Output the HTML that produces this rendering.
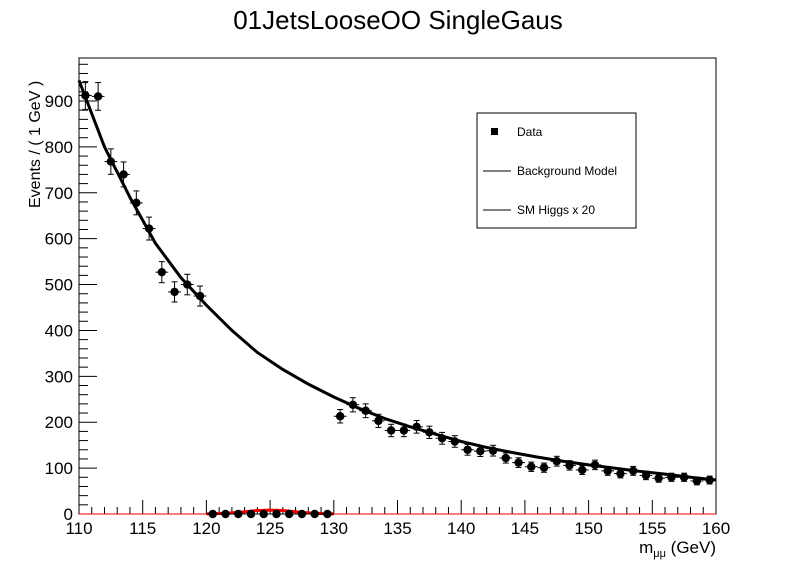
<!DOCTYPE html>
<html><head><meta charset="utf-8"><style>
body{margin:0;background:#fff;width:796px;height:572px;overflow:hidden}
svg text{font-family:"Liberation Sans",Arial,sans-serif}
</style></head><body>
<svg id="chart" width="796" height="572">
<text x="398" y="29" font-size="26" text-anchor="middle">01JetsLooseOO SingleGaus</text>
<rect x="79" y="58" width="637" height="456" fill="none" stroke="#000" stroke-width="1"/>
<g id="axes"></g>
<g id="marks"></g>
<text x="716" y="553" font-size="17" text-anchor="end">m<tspan font-size="11" dy="4">μμ</tspan><tspan dy="-4"> (GeV)</tspan></text>
<text transform="translate(40,208) rotate(-90)" font-size="16">Events / ( 1 GeV )</text>
<g>
<rect x="477" y="113" width="159" height="115" fill="#fff" stroke="#000" stroke-width="1"/>
<rect x="491" y="128" width="7" height="7" fill="#000"/>
<text x="517" y="136" font-size="12">Data</text>
<line x1="483" y1="171" x2="511" y2="171" stroke="#000"/>
<text x="517" y="175" font-size="12">Background Model</text>
<line x1="483" y1="210" x2="511" y2="210" stroke="#000"/>
<text x="517" y="214" font-size="12">SM Higgs x 20</text>
</g>
</svg>
<script>
const dataX=[110.5,111.5,112.5,113.5,114.5,115.5,116.5,117.5,118.5,119.5,120.5,121.5,122.5,123.5,124.5,125.5,126.5,127.5,128.5,129.5,130.5,131.5,132.5,133.5,134.5,135.5,136.5,137.5,138.5,139.5,140.5,141.5,142.5,143.5,144.5,145.5,146.5,147.5,148.5,149.5,150.5,151.5,152.5,153.5,154.5,155.5,156.5,157.5,158.5,159.5];
const dataY=[912,910,768,740,678,622,527,484,500,475,0,0,0,0,0,0,0,0,0,0,213,238,225,203,182,182,190,178,165,158,140,137,138,122,112,103,101,115,106,96,107,94,88,94,84,78,80,80,72,74];
const bgX=[110,112,114,116,118,120,122,124,126,128,130,132,134,136,138,140,142,144,146,148,150,152,154,156,158,160];
const bgY=[945,800,690,590,515,455,400,352,315,283,255,230,208,190,174,158,145,134,124,115,107,100,93,87,80,74];
const sigX=[120,121,122,123,124,125,126,127,128,129,130];
const sigY=[0.3,1,2.5,5,7.5,8.5,7.5,5,2.5,1,0.3];
const xTicks=[110,115,120,125,130,135,140,145,150,155,160];
const yTicks=[0,100,200,300,400,500,600,700,800,900];
const NS="http://www.w3.org/2000/svg";
const X=v=>79+(v-110)*(637/50), Y=v=>514-v*(413/900);
function mk(t,a,p){const e=document.createElementNS(NS,t);for(const k in a)e.setAttribute(k,a[k]);p.appendChild(e);return e;}
const ax=document.getElementById('axes'),mg=document.getElementById('marks');
for(let v=110;v<=160;v++){const big=v%5==0;const l=mk('line',{x1:X(v),x2:X(v),y1:514,y2:514-(big?14:7),stroke:'#000'},ax);

}
xTicks.forEach(v=>{const t=mk('text',{x:X(v),y:534,'font-size':17,'text-anchor':'middle'},ax);t.textContent=v;

});
for(let v=0;v<=980;v+=20){if(Y(v)<58)break;const big=v%100==0;const l=mk('line',{x1:79,x2:79+(big?18:9),y1:Y(v),y2:Y(v),stroke:'#000'},ax);

}
yTicks.forEach(v=>{const t=mk('text',{x:73,y:Y(v)+6,'font-size':17,'text-anchor':'end'},ax);t.textContent=v;

});
const bg=mk('polyline',{points:bgX.map((x,i)=>X(x)+','+Y(bgY[i])).join(' '),fill:'none',stroke:'#000','stroke-width':3},mg);


const sg=mk('polyline',{points:sigX.map((x,i)=>X(x)+','+Y(sigY[i])).join(' '),fill:'none',stroke:'#e00','stroke-width':3},mg);


const rl=mk('line',{x1:79,x2:716,y1:514,y2:514,stroke:'#e00','stroke-width':1},mg);


dataX.forEach((x,i)=>{const v=dataY[i],cx=X(x),cy=Y(v),e=Math.sqrt(v)*Math.abs(Y(1)-Y(0));
const g=mk('g',{},mg);


mk('line',{x1:X(x-0.5),x2:X(x+0.5),y1:cy,y2:cy,stroke:'#000'},g);
if(v>0){mk('line',{x1:cx,x2:cx,y1:cy-e,y2:cy+e,stroke:'#000'},g);
mk('line',{x1:cx-3,x2:cx+3,y1:cy-e,y2:cy-e,stroke:'#000'},g);
mk('line',{x1:cx-3,x2:cx+3,y1:cy+e,y2:cy+e,stroke:'#000'},g);}
mk('circle',{cx:cx,cy:cy,r:4.2,fill:'#000'},g);});
</script>
</body></html>
